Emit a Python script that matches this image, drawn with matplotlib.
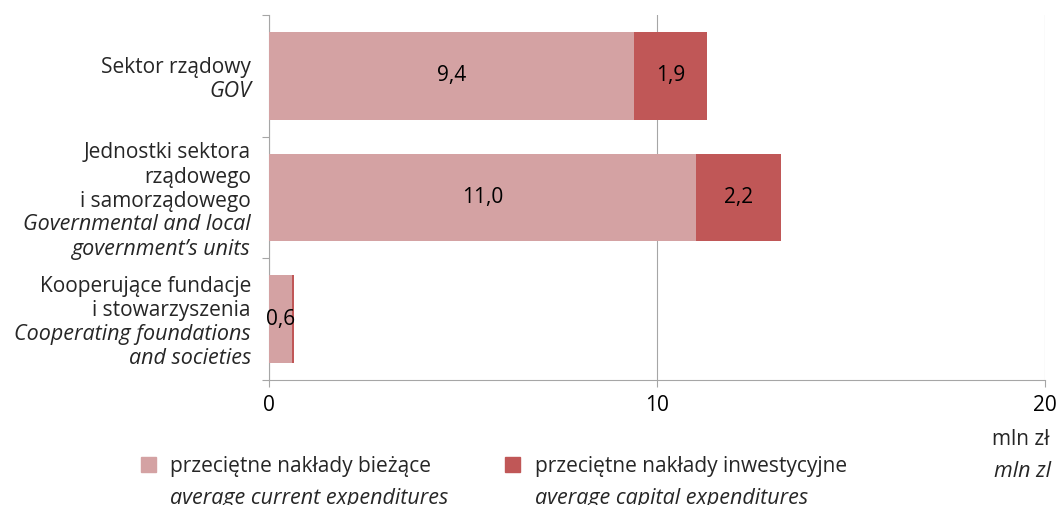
import matplotlib
matplotlib.use("Agg")
import matplotlib.pyplot as plt
import matplotlib.transforms as mtransforms
from matplotlib.patches import Rectangle

plt.rcParams['font.family'] = ['Open Sans', 'DejaVu Sans']

# ---- data ----
categories = [
    [("Sektor rządowy", "normal"), ("GOV", "italic")],
    [("Jednostki sektora", "normal"), ("rządowego", "normal"), ("i samorządowego", "normal"),
     ("Governmental and local", "italic"), ("government’s units", "italic")],
    [("Kooperujące fundacje", "normal"), ("i stowarzyszenia", "normal"),
     ("Cooperating foundations", "italic"), ("and societies", "italic")],
]
current = [9.4, 11.0, 0.6]
capital = [1.9, 2.2, 0.05]
current_labels = ["9,4", "11,0", "0,6"]
capital_labels = ["1,9", "2,2", ""]
xticks = [0, 10, 20]
legend_pl = ["przeciętne nakłady bieżące", "przeciętne nakłady inwestycyjne"]
legend_en = ["average current expenditures", "average capital expenditures"]
unit_pl = "mln zł"
unit_en = "mln zl"

C_CUR = '#D4A2A3'
C_CAP = '#C05757'
GRAY = '#A6A6A6'
TXT = '#262626'
FS = 15
FSI = 15.5

W, H = 1057, 505
fig = plt.figure(figsize=(W / 100, H / 100), dpi=100)
ax = fig.add_axes([269 / W, 1 - 380 / H, (1045 - 269) / W, (380 - 15) / H])

y = list(range(len(current)))
ax.barh(y, current, height=0.72, color=C_CUR, zorder=3)
ax.barh(y, capital, left=current, height=0.72, color=C_CAP, zorder=3)

for i in y:
    ax.text(current[i] / 2, i, current_labels[i], ha='center', va='center',
            fontsize=FS, color='black', zorder=4)
    if capital_labels[i]:
        ax.text(current[i] + capital[i] / 2, i, capital_labels[i], ha='center', va='center',
                fontsize=FS, color='black', zorder=4)

ax.set_xlim(0, 20)
ax.set_ylim(2.5, -0.5)
ax.set_xticks(xticks)
ax.set_xticklabels([str(t) for t in xticks], fontsize=FS, color='black')
ax.tick_params(axis='x', direction='out', length=5, width=0.8, color=GRAY, pad=6)
ax.set_yticks([])
ax.set_yticks([-0.5, 0.5, 1.5, 2.5], minor=True)
ax.tick_params(axis='y', which='minor', direction='out', length=5, width=0.8, color=GRAY)
ax.xaxis.grid(True, color=GRAY, linewidth=0.8, zorder=0)
ax.set_axisbelow(True)
for s in ['top', 'right']:
    ax.spines[s].set_visible(False)
for s in ['left', 'bottom']:
    ax.spines[s].set_color(GRAY)
    ax.spines[s].set_linewidth(0.8)

# category labels
trans = mtransforms.blended_transform_factory(ax.transAxes, ax.transData)
LS = 24  # px
K = 9
for i, lines in enumerate(categories):
    n = len(lines)
    for j, (txt, style) in enumerate(lines):
        off_px = (j - (n - 1) / 2) * LS + K
        ax.annotate(txt, xy=(0, i), xycoords=trans,
                    xytext=(-13, -off_px * 0.72), textcoords='offset points',
                    ha='right', va='baseline', fontsize=FSI if style == 'italic' else FS,
                    style=style, color=TXT)

# legend
sq = 15
for k, (x0, tx) in enumerate([(141, 170), (505, 535)]):
    color = [C_CUR, C_CAP][k]
    fig.add_artist(Rectangle((x0 / W, 1 - 472 / H), sq / W, sq / H,
                             transform=fig.transFigure, color=color))
    fig.text(tx / W, 1 - 472 / H, legend_pl[k], fontsize=FS, color=TXT, va='baseline', ha='left')
    fig.text(tx / W, 1 - 504 / H, legend_en[k], fontsize=FSI, color=TXT, style='italic',
             va='baseline', ha='left')

fig.text(1049 / W, 1 - 445 / H, unit_pl, fontsize=FS, color=TXT, ha='right', va='baseline')
fig.text(1051 / W, 1 - 477 / H, unit_en, fontsize=FSI, color=TXT, ha='right', va='baseline',
         style='italic')

fig.savefig('out.png', dpi=100)
